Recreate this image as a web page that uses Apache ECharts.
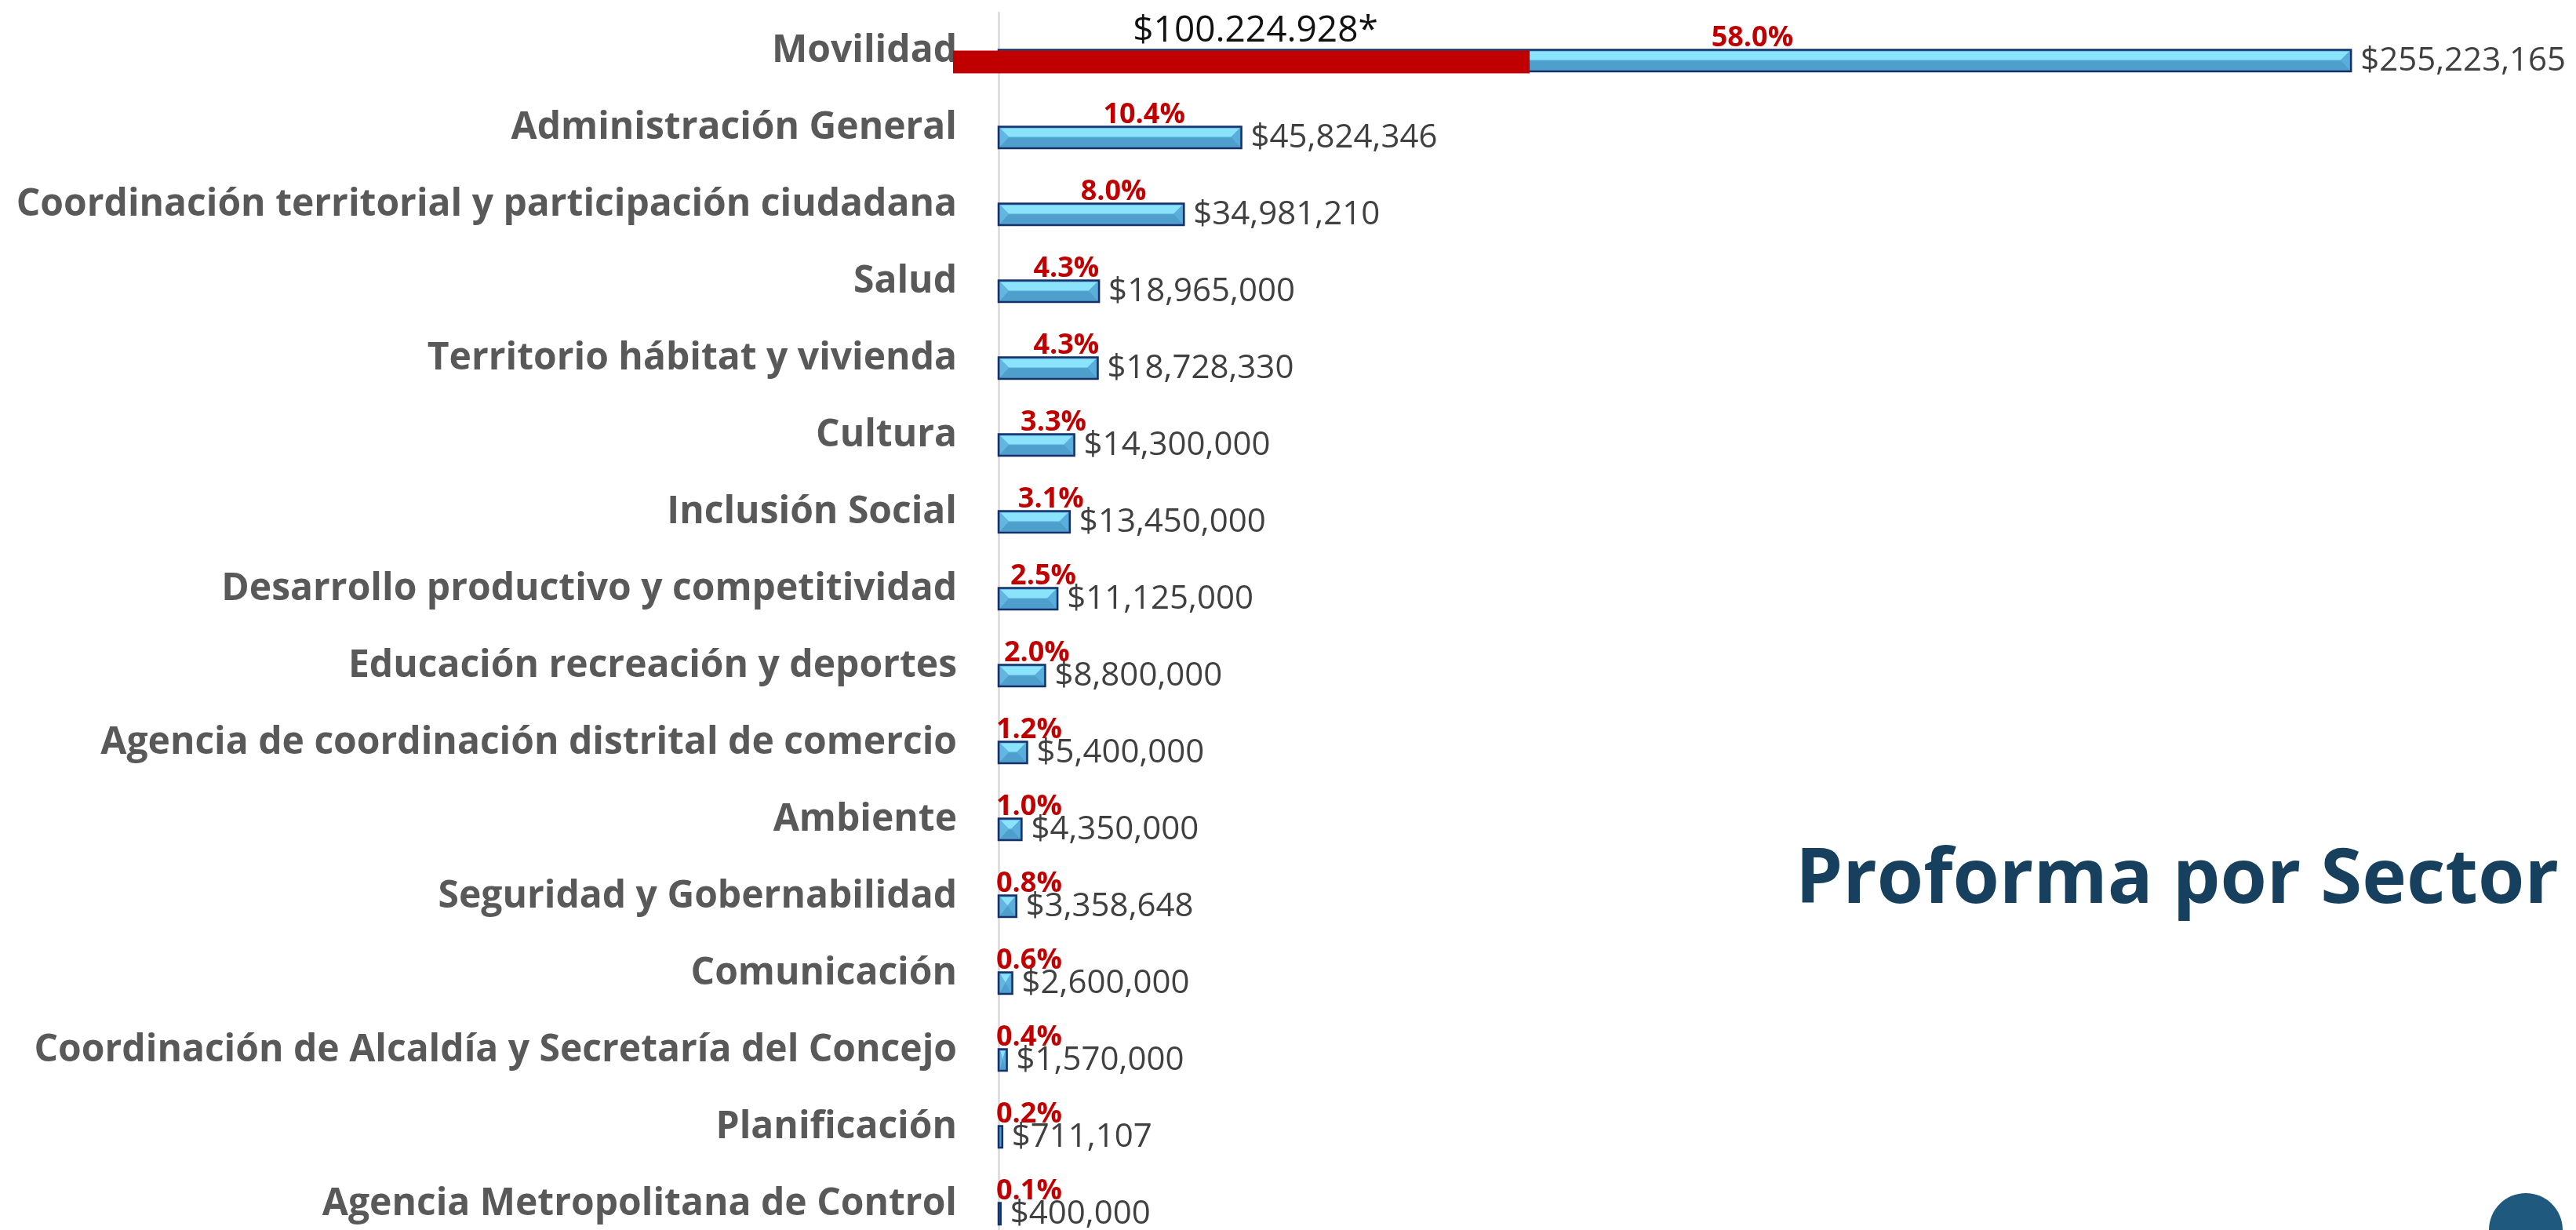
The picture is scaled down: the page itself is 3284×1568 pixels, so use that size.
<!DOCTYPE html>
<html>
<head>
<meta charset="utf-8">
<script src="https://cdn.jsdelivr.net/npm/echarts@6/dist/echarts.min.js"></script>
<style>
  html, body { margin: 0; padding: 0; background: #ffffff; overflow: hidden; }
  /* the last category row runs past the bottom edge of the page */
  #chart { width: 3284px; height: 1584px; }
</style>
</head>
<body>
<div id="chart"></div>
<script>
// Presupuesto proforma por sector
const sectors = [
  'Movilidad',
  'Administración General',
  'Coordinación territorial y participación ciudadana',
  'Salud',
  'Territorio hábitat y vivienda',
  'Cultura',
  'Inclusión Social',
  'Desarrollo productivo y competitividad',
  'Educación recreación y deportes',
  'Agencia de coordinación distrital de comercio',
  'Ambiente',
  'Seguridad y Gobernabilidad',
  'Comunicación',
  'Coordinación de Alcaldía y Secretaría del Concejo',
  'Planificación',
  'Agencia Metropolitana de Control'
];
const amounts = [255223165, 45824346, 34981210, 18965000, 18728330, 14300000, 13450000,
  11125000, 8800000, 5400000, 4350000, 3358648, 2600000, 1570000, 711107, 400000];
const shares = [58.0, 10.4, 8.0, 4.3, 4.3, 3.3, 3.1, 2.5, 2.0, 1.2, 1.0, 0.8, 0.6, 0.4, 0.2, 0.1];

// Monto resaltado sobre Movilidad
const highlightSector = 'Movilidad';
const highlightAmount = 100224928;
const highlightText = '$100.224.928*';

const titleText = 'Proforma por Sector';

const FONT = '"Open Sans", "Noto Sans", sans-serif';
const BAR_SHIFT = 0.125;   // bars sit a little below the band centre
const BAR_H = 0.28;        // bar thickness as part of the band

const measureCtx = document.createElement('canvas').getContext('2d');
function textWidth(str, font) { measureCtx.font = font; return measureCtx.measureText(str).width; }

function money(v) { return '$' + v.toLocaleString('en-US'); }

function renderBar(params, api) {
  const v = api.value(0), i = api.value(1);
  const s = api.coord([0, i]), e = api.coord([v, i]);
  const band = api.size([0, 1])[1];
  const h = band * BAR_H;
  const cy = s[1] + band * BAR_SHIFT;
  const x0 = s[0], x1 = e[0], w = x1 - x0;
  const top = cy - h / 2, bot = cy + h / 2;
  const inset = 2;
  const mid = top + h * 0.48;
  const b = Math.max(0, Math.min(mid - top - inset, w / 2 - inset));
  const children = [
    { type: 'rect', shape: { x: x0, y: top, width: w, height: h },
      style: { fill: '#4f9fcd', stroke: '#17306a', lineWidth: 2.5 } }
  ];
  if (w > 2 * inset + 1) {
    children.push(
      { type: 'polygon', shape: { points: [[x0 + inset, top + inset], [x1 - inset, top + inset], [x1 - inset - b, mid], [x0 + inset + b, mid]] },
        style: { fill: '#8ae2fb' } },
      { type: 'polygon', shape: { points: [[x0 + inset, top + inset], [x0 + inset + b, mid], [x0 + inset, bot - inset]] },
        style: { fill: '#62b6e0' } },
      { type: 'polygon', shape: { points: [[x1 - inset, top + inset], [x1 - inset - b, mid], [x1 - inset, bot - inset]] },
        style: { fill: '#5aaedb' } },
      { type: 'line', shape: { x1: x0 + inset + b, y1: mid, x2: x1 - inset - b, y2: mid },
        style: { stroke: '#6dc3ea', lineWidth: 1 } }
    );
  }
  children.push({
    type: 'text',
    style: { text: money(v), x: x1 + 12, y: cy + 1, fill: '#404040',
      fontSize: 42, fontFamily: FONT, align: 'left', verticalAlign: 'middle' }
  });
  return { type: 'group', children };
}

function renderShare(params, api) {
  const p = api.value(0), i = api.value(1);
  const c = api.coord([p, i]);
  const band = api.size([0, 1])[1];
  const barTop = c[1] + band * BAR_SHIFT - band * BAR_H / 2;
  const label = p.toFixed(1) + '%';
  const font = 'bold 36px ' + FONT;
  const w = textWidth(label, font);
  const left = Math.max(c[0] - w / 2, params.coordSys.x - 3);
  return {
    type: 'text',
    style: { text: label, x: left, y: barTop - 15, fill: '#c00000',
      fontSize: 36, fontWeight: 'bold', fontFamily: FONT, align: 'left', verticalAlign: 'middle' }
  };
}

function renderHighlight(params, api) {
  const v = api.value(0), i = api.value(1);
  const s = api.coord([0, i]), e = api.coord([v, i]);
  const band = api.size([0, 1])[1];
  const h = band * BAR_H;
  const top = s[1] + band * BAR_SHIFT - h / 2 + 1;
  const left = s[0] - 58;
  return {
    type: 'group',
    children: [
      { type: 'rect', shape: { x: left, y: top, width: e[0] - left, height: h + 1.5 },
        style: { fill: '#c00000' } },
      { type: 'text',
        style: { text: highlightText, x: (left + e[0]) / 2 + 18, y: top - 25, fill: '#111111',
          fontSize: 46, fontFamily: FONT, align: 'center', verticalAlign: 'middle' } }
    ]
  };
}

const chart = echarts.init(document.getElementById('chart'), null, { renderer: 'canvas' });

chart.setOption({
  backgroundColor: '#ffffff',
  animation: false,
  grid: { left: 1273, right: 187, top: 16, bottom: 0, containLabel: false },
  xAxis: [
    { type: 'value', min: 0, max: 270000000, show: false },
    { type: 'value', min: -1, max: 111, show: false }
  ],
  yAxis: {
    type: 'category',
    inverse: true,
    data: sectors,
    axisLine: { show: true, lineStyle: { color: '#d9d9d9', width: 2.5 } },
    axisTick: { show: false },
    splitLine: { show: false },
    axisLabel: {
      margin: 53,
      color: '#595959',
      fontSize: 48,
      fontWeight: 'bold',
      fontFamily: FONT
    }
  },
  series: [
    {
      type: 'custom', name: 'Monto', xAxisIndex: 0, z: 3,
      renderItem: renderBar,
      encode: { x: 0, y: 1 },
      data: amounts.map((v, i) => [v, i])
    },
    {
      type: 'custom', name: 'Participación', xAxisIndex: 1, z: 4,
      renderItem: renderShare,
      encode: { x: 0, y: 1 },
      data: shares.map((v, i) => [v, i])
    },
    {
      type: 'custom', name: 'Resaltado', xAxisIndex: 0, z: 5,
      renderItem: renderHighlight,
      encode: { x: 0, y: 1 },
      data: [[highlightAmount, sectors.indexOf(highlightSector)]]
    }
  ],
  graphic: [
    { type: 'text', right: 22, top: 1076,
      style: { text: titleText, fill: '#17405e', fontSize: 96, fontWeight: 'bold', fontFamily: FONT } },
    { type: 'circle', shape: { cx: 3220, cy: 1568, r: 47 }, style: { fill: '#1f5a7e' } }
  ]
});
</script>
</body>
</html>
